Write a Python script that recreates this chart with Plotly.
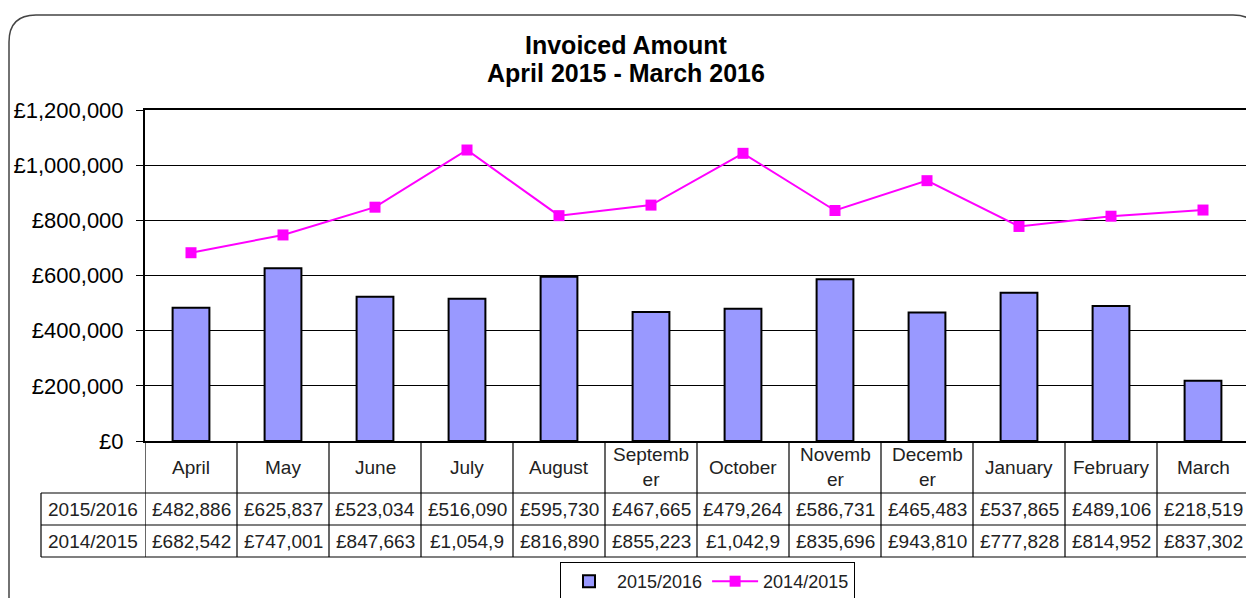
import plotly.graph_objects as go

# ---------------- data ----------------
months = ["April", "May", "June", "July", "August", "September", "October",
          "November", "December", "January", "February", "March"]
header_labels = ["April", "May", "June", "July", "August", "Septemb<br>er", "October",
                 "Novemb<br>er", "Decemb<br>er", "January", "February", "March"]
series_2015_16 = [482886, 625837, 523034, 516090, 595730, 467665, 479264,
                  586731, 465483, 537865, 489106, 218519]
series_2014_15 = [682542, 747001, 847663, 1054950, 816890, 855223, 1042950,
                  835696, 943810, 777828, 814952, 837302]
name_a = "2015/2016"
name_b = "2014/2015"
title_lines = ["Invoiced Amount", "April 2015 - March 2016"]
y_ticks = [0, 200000, 400000, 600000, 800000, 1000000, 1200000]
y_ticktext = ["£{:,}".format(v) for v in y_ticks]

# ---------------- geometry helpers (pixel -> paper) ----------------
W, H = 1246, 598
L, R, T, B = 145, 1246, 110, 441
CAT_W = 92.0


def px(x):
    return (x - L) / (R - L)


def py(y):
    return (B - y) / (B - T)


def cell_text(v):
    s = "£{:,}".format(v)
    return s[:8]  # cell is too narrow for longer values (as in source)


FONT = "Liberation Sans, Arial, sans-serif"
TXT = "#222"
idx = list(range(len(months)))

fig = go.Figure()
fig.add_trace(go.Bar(
    x=idx, y=series_2015_16, name=name_a, width=0.4,
    marker=dict(color="#9999FF", line=dict(color="black", width=2)),
))
fig.add_trace(go.Scatter(
    x=idx, y=series_2014_15, name=name_b, mode="lines+markers",
    line=dict(color="#FF00FF", width=2),
    marker=dict(symbol="square", size=11, color="#FF00FF"),
))

shapes = []
# rounded outer frame
r = 27
fx0, fy0, fx1, fy1 = 9, 15, 1260, 603
path = (f"M {px(fx0)} {py(fy1)} L {px(fx0)} {py(fy0 + r)} "
        f"Q {px(fx0)} {py(fy0)} {px(fx0 + r)} {py(fy0)} "
        f"L {px(fx1 - r)} {py(fy0)} Q {px(fx1)} {py(fy0)} {px(fx1)} {py(fy0 + r)} "
        f"L {px(fx1)} {py(fy1)}")
shapes.append(dict(type="path", xref="paper", yref="paper", path=path,
                   line=dict(color="#444", width=1.5), layer="below"))
# table grid: vertical lines at category boundaries
for i in range(len(months) + 1):
    shapes.append(dict(type="line", xref="x", yref="paper",
                       x0=i - 0.5, x1=i - 0.5, y0=0, y1=py(557),
                       line=dict(color="black", width=1.2)))
# label column left border
shapes.append(dict(type="line", xref="paper", yref="paper",
                   x0=px(41), x1=px(41), y0=py(493), y1=py(557),
                   line=dict(color="black", width=1.2)))
# horizontal lines
for yy in (493, 525, 557):
    shapes.append(dict(type="line", xref="paper", yref="paper",
                       x0=px(41), x1=1.0, y0=py(yy), y1=py(yy),
                       line=dict(color="black", width=1.2)))

annotations = []
for line_y, txt in zip((45, 73), title_lines):
    annotations.append(dict(x=px(626), y=py(line_y), xref="paper", yref="paper",
                            text=f"<b>{txt}</b>", showarrow=False,
                            xanchor="center", yanchor="middle",
                            font=dict(size=25, color="black", family=FONT)))
for i, lab in enumerate(header_labels):
    annotations.append(dict(x=i, y=py(467), xref="x", yref="paper", text=lab,
                            showarrow=False, xanchor="center", yanchor="middle",
                            font=dict(size=19, color=TXT, family=FONT)))
for row_y, name, vals in ((509, name_a, series_2015_16), (541, name_b, series_2014_15)):
    annotations.append(dict(x=px(93), y=py(row_y), xref="paper", yref="paper", text=name,
                            showarrow=False, xanchor="center", yanchor="middle",
                            font=dict(size=19, color=TXT, family=FONT)))
    for i, v in enumerate(vals):
        annotations.append(dict(x=i, y=py(row_y), xref="x", yref="paper", text=cell_text(v),
                                showarrow=False, xanchor="center", yanchor="middle",
                                font=dict(size=19, color=TXT, family=FONT)))

fig.update_layout(
    width=W, height=H,
    margin=dict(l=L, r=W - R, t=T, b=H - B, pad=0, autoexpand=False),
    paper_bgcolor="white", plot_bgcolor="white",
    font=dict(family=FONT, color="black"),
    showlegend=True,
    legend=dict(orientation="h", xref="container", yref="container",
                x=560 / W, xanchor="left", y=1 - 562 / H, yanchor="top",
                bordercolor="black", borderwidth=1, bgcolor="white",
                font=dict(size=18, color=TXT, family=FONT),
                traceorder="normal", itemwidth=46),
    shapes=shapes,
    annotations=annotations,
)
fig.update_xaxes(range=[-0.5, 11.5 - (CAT_W * 12 - (R - L)) / CAT_W],
                 showticklabels=False, ticks="", showgrid=False, automargin=False,
                 showline=True, linecolor="black", linewidth=2, mirror=True,
                 zeroline=False)
fig.update_yaxes(range=[0, 1200000], tickmode="array", tickvals=y_ticks, ticktext=y_ticktext,
                 ticks="outside", ticklen=7, tickcolor="black", tickwidth=1,
                 ticklabelstandoff=8, automargin=False,
                 showline=True, linecolor="black", linewidth=2,
                 showgrid=True, gridcolor="black", gridwidth=1, zeroline=False,
                 tickfont=dict(size=22, color="black", family=FONT))

fig.write_html("out.html", config={"displayModeBar": False},
               post_script="document.body.style.margin='0';document.body.style.overflow='hidden';")
